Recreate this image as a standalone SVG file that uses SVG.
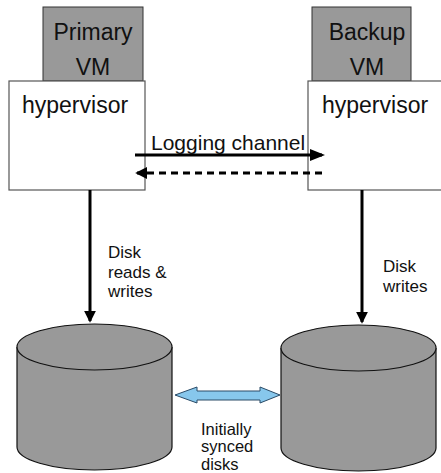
<svg xmlns="http://www.w3.org/2000/svg" width="441" height="473" viewBox="0 0 441 473">
<style>
.vm{fill:#999999;stroke:#333;stroke-width:1}
.hv{fill:#fff;stroke:#555;stroke-width:1.2}
.cyl{fill:#999999;stroke:#111;stroke-width:1.2}
.big{font-family:"Liberation Sans",Arial,sans-serif;font-size:23px;fill:#111}
.mid{font-family:"Liberation Sans",Arial,sans-serif;font-size:21px;fill:#111}
.sm{font-family:"Liberation Sans",Arial,sans-serif;font-size:17px;fill:#111}
.sm2{font-family:"Liberation Sans",Arial,sans-serif;font-size:16.5px;fill:#111}
.ln{stroke:#000;stroke-width:3;fill:none}
</style>
<defs>
<marker id="ah" markerWidth="4" markerHeight="4" refX="3.4" refY="2" orient="auto" markerUnits="strokeWidth">
<path d="M0,0 L4,2 L0,4 Z" fill="#000"/>
</marker>
<marker id="ahs" markerWidth="5" markerHeight="5" refX="4" refY="2.5" orient="auto" markerUnits="strokeWidth">
<path d="M0,0.5 L5,2.5 L0,4.5 Z" fill="#000"/>
</marker>
</defs>
<g id="primary-vm">
<rect class="vm" x="43" y="7" width="100" height="74"/>
<text class="big" x="93" y="40" text-anchor="middle">Primary</text>
<text class="big" x="93" y="75" text-anchor="middle">VM</text>
</g>
<g id="primary-hypervisor">
<rect class="hv" x="9" y="81" width="136" height="109"/>
<text class="big" x="22" y="113">hypervisor</text>
</g>
<g id="backup-vm">
<rect class="vm" x="312" y="7" width="99" height="74"/>
<text class="big" x="367" y="40" text-anchor="middle">Backup</text>
<text class="big" x="367" y="75" text-anchor="middle">VM</text>
</g>
<g id="backup-hypervisor">
<rect class="hv" x="308" y="81" width="140" height="109"/>
<text class="big" x="322" y="113">hypervisor</text>
</g>
<g id="primary-disk">
<path class="cyl" d="M17,347 L17,447 A77.5,23 0 0 0 172,447 L172,347"/>
<ellipse class="cyl" cx="94.5" cy="347" rx="77.5" ry="23"/>
</g>
<g id="backup-disk">
<path class="cyl" d="M281,348 L281,448 A77.5,23 0 0 0 436,448 L436,348"/>
<ellipse class="cyl" cx="358.5" cy="348" rx="77.5" ry="23"/>
</g>
<g id="connectors">
<line class="ln" x1="135" y1="155" x2="322" y2="155" stroke-width="4" marker-end="url(#ahs)"/>
<text class="mid" x="151" y="150">Logging channel</text>
<line class="ln" x1="322" y1="173" x2="137" y2="173" stroke-width="4" stroke-dasharray="7,5" marker-end="url(#ah)"/>
<line class="ln" x1="90" y1="190" x2="90" y2="321" marker-end="url(#ah)"/>
<text class="sm" x="108" y="258">Disk</text>
<text class="sm" x="108" y="278">reads &amp;</text>
<text class="sm" x="108" y="297">writes</text>
<line class="ln" x1="362" y1="190" x2="362" y2="322" marker-end="url(#ah)"/>
<text class="sm" x="383" y="272">Disk</text>
<text class="sm" x="383" y="292">writes</text>
<path d="M175,395 L197,387 L197,391 L260,391 L260,387 L280,395 L260,403 L260,400 L197,400 L197,403 Z" fill="#87c7ec" stroke="#2a4a66" stroke-width="1"/>
<text class="sm2" x="201" y="435">Initially</text>
<text class="sm2" x="201" y="452">synced</text>
<text class="sm2" x="201" y="470">disks</text>
</g>
</svg>
